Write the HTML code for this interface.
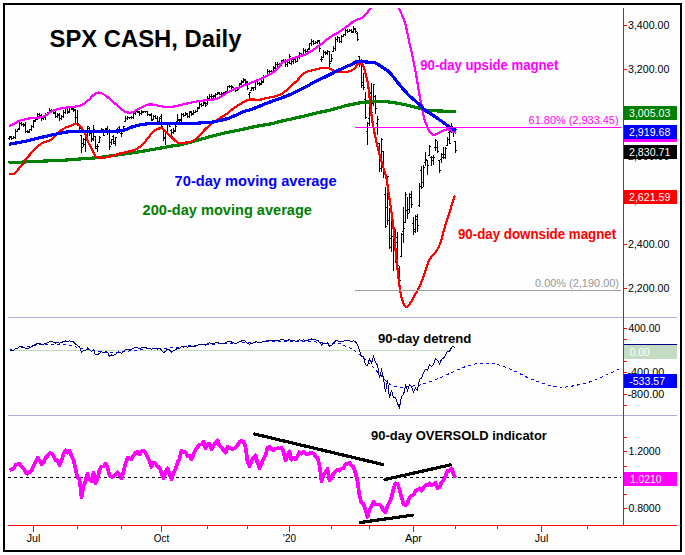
<!DOCTYPE html>
<html><head><meta charset="utf-8"><title>SPX CASH, Daily</title><style>html,body{margin:0;padding:0;background:#fff;width:685px;height:555px;overflow:hidden}svg{display:block;font-family:'Liberation Sans', Arial, sans-serif}</style></head><body>
<svg width="685" height="555" viewBox="0 0 685 555">
<rect width="685" height="555" fill="#ffffff"/>
<rect x="4" y="4" width="677" height="547" fill="#fcfdfc" stroke="#000" stroke-width="2"/>
<defs><clipPath id="cp"><rect x="5" y="8" width="618" height="309"/></clipPath></defs>
<path d="M8 317.5H677M8 415.5H677" stroke="#a8a8d0" stroke-width="1" fill="none" stroke-dasharray="1 1"/>
<path d="M9 317.5H677M9 415.5H677" stroke="#c8bca0" stroke-width="1" fill="none" stroke-dasharray="1 1"/>
<g clip-path="url(#cp)"><path d="M9.5 136V140M8.0 138.5h1.5M9.5 136.5h1.5M11.5 136V140M10.0 137.5h1.5M11.5 138.5h1.5M13.5 136V139M12.0 138.5h1.5M13.5 137.5h1.5M15.5 129V139M14.0 137.5h1.5M15.5 131.5h1.5M17.5 129V132M16.0 131.5h1.5M17.5 129.5h1.5M19.5 121V130M18.0 128.5h1.5M19.5 123.5h1.5M21.5 122V126M20.0 123.5h1.5M21.5 124.5h1.5M23.5 123V127M22.0 124.5h1.5M23.5 125.5h1.5M25.5 122V133M24.0 124.5h1.5M25.5 131.5h1.5M27.5 130V133M26.0 131.5h1.5M27.5 132.5h1.5M29.5 129V133M28.0 131.5h1.5M29.5 129.5h1.5M31.5 125V131M30.0 129.5h1.5M31.5 126.5h1.5M33.5 120V128M32.0 126.5h1.5M33.5 121.5h1.5M35.5 118V122M34.0 120.5h1.5M35.5 119.5h1.5M37.5 113V120M36.0 118.5h1.5M37.5 114.5h1.5M39.5 113V116M38.0 114.5h1.5M39.5 115.5h1.5M41.5 114V121M40.0 115.5h1.5M41.5 118.5h1.5M43.5 117V120M42.0 118.5h1.5M43.5 117.5h1.5M45.5 113V120M44.0 117.5h1.5M45.5 114.5h1.5M47.5 112V116M46.0 114.5h1.5M47.5 113.5h1.5M49.5 108V114M48.0 112.5h1.5M49.5 110.5h1.5M51.5 109V112M50.0 110.5h1.5M51.5 110.5h1.5M53.5 109V114M52.0 110.5h1.5M53.5 112.5h1.5M55.5 111V118M54.0 113.5h1.5M55.5 116.5h1.5M57.5 113V118M56.0 116.5h1.5M57.5 114.5h1.5M59.5 113V121M58.0 115.5h1.5M59.5 118.5h1.5M61.5 115V120M60.0 118.5h1.5M61.5 116.5h1.5M63.5 110V118M62.0 116.5h1.5M63.5 112.5h1.5M65.5 108V114M64.0 112.5h1.5M65.5 108.5h1.5M67.5 108V114M66.0 108.5h1.5M67.5 112.5h1.5M69.5 107V113M68.0 111.5h1.5M69.5 107.5h1.5M71.5 106V110M70.0 107.5h1.5M71.5 108.5h1.5M73.5 108V112M72.0 109.5h1.5M73.5 110.5h1.5M75.5 109V123M74.0 109.5h1.5M75.5 117.5h1.5M77.5 110V126M76.0 117.5h1.5M77.5 123.5h1.5M79.5 125V133M78.0 125.5h1.5M79.5 128.5h1.5M81.5 135V153M80.0 135.5h1.5M81.5 147.5h1.5M83.5 138V147M82.0 143.5h1.5M83.5 139.5h1.5M85.5 136V152M84.0 144.5h1.5M85.5 138.5h1.5M87.5 126V137M86.0 135.5h1.5M87.5 126.5h1.5M89.5 127V136M88.0 128.5h1.5M89.5 131.5h1.5M91.5 133V142M90.0 133.5h1.5M91.5 138.5h1.5M93.5 125V141M92.0 139.5h1.5M93.5 129.5h1.5M95.5 136V149M94.0 136.5h1.5M95.5 148.5h1.5M97.5 144V152M96.0 146.5h1.5M97.5 146.5h1.5M99.5 136V143M98.0 142.5h1.5M99.5 137.5h1.5M101.5 128V133M100.0 132.5h1.5M101.5 129.5h1.5M103.5 129V136M102.0 130.5h1.5M103.5 135.5h1.5M105.5 128V132M104.0 130.5h1.5M105.5 129.5h1.5M107.5 126V135M106.0 128.5h1.5M107.5 130.5h1.5M109.5 129V150M108.0 132.5h1.5M109.5 146.5h1.5M111.5 139V145M110.0 142.5h1.5M111.5 139.5h1.5M113.5 135V144M112.0 136.5h1.5M113.5 141.5h1.5M115.5 137V146M114.0 143.5h1.5M115.5 137.5h1.5M117.5 128V134M116.0 132.5h1.5M117.5 129.5h1.5M119.5 126V133M118.0 127.5h1.5M119.5 129.5h1.5M121.5 132V137M120.0 133.5h1.5M121.5 133.5h1.5M123.5 126V131M122.0 129.5h1.5M123.5 126.5h1.5M125.5 116V122M124.0 121.5h1.5M125.5 118.5h1.5M127.5 116V120M126.0 118.5h1.5M127.5 117.5h1.5M129.5 117V119M128.0 117.5h1.5M129.5 117.5h1.5M131.5 116V119M130.0 117.5h1.5M131.5 117.5h1.5M133.5 112V119M132.0 117.5h1.5M133.5 113.5h1.5M135.5 110V115M134.0 112.5h1.5M135.5 111.5h1.5M137.5 110V113M136.0 111.5h1.5M137.5 111.5h1.5M139.5 111V116M138.0 112.5h1.5M139.5 113.5h1.5M141.5 110V115M140.0 113.5h1.5M141.5 112.5h1.5M143.5 111V113M142.0 111.5h1.5M143.5 111.5h1.5M145.5 111V113M144.0 111.5h1.5M145.5 111.5h1.5M147.5 111V116M146.0 111.5h1.5M147.5 114.5h1.5M149.5 114V116M148.0 114.5h1.5M149.5 115.5h1.5M151.5 113V121M150.0 114.5h1.5M151.5 120.5h1.5M153.5 115V120M152.0 119.5h1.5M153.5 116.5h1.5M155.5 115V119M154.0 116.5h1.5M155.5 118.5h1.5M157.5 116V124M156.0 118.5h1.5M157.5 121.5h1.5M159.5 117V122M158.0 121.5h1.5M159.5 118.5h1.5M161.5 114V127M160.0 116.5h1.5M161.5 126.5h1.5M163.5 129V141M162.0 129.5h1.5M163.5 137.5h1.5M165.5 132V145M164.0 138.5h1.5M165.5 132.5h1.5M167.5 122V135M166.0 133.5h1.5M167.5 123.5h1.5M169.5 124V127M168.0 124.5h1.5M169.5 126.5h1.5M171.5 129V137M170.0 130.5h1.5M171.5 136.5h1.5M173.5 128V134M172.0 132.5h1.5M173.5 130.5h1.5M175.5 124V132M174.0 131.5h1.5M175.5 126.5h1.5M177.5 114V122M176.0 121.5h1.5M177.5 119.5h1.5M179.5 119V122M178.0 120.5h1.5M179.5 120.5h1.5M181.5 113V122M180.0 119.5h1.5M181.5 114.5h1.5M183.5 113V117M182.0 114.5h1.5M183.5 115.5h1.5M185.5 112V116M184.0 115.5h1.5M185.5 113.5h1.5M187.5 113V118M186.0 114.5h1.5M187.5 116.5h1.5M189.5 111V118M188.0 116.5h1.5M189.5 111.5h1.5M191.5 111V116M190.0 112.5h1.5M191.5 114.5h1.5M193.5 110V115M192.0 113.5h1.5M193.5 112.5h1.5M195.5 110V113M194.0 112.5h1.5M195.5 111.5h1.5M197.5 107V112M196.0 111.5h1.5M197.5 108.5h1.5M199.5 102V109M198.0 107.5h1.5M199.5 104.5h1.5M201.5 103V107M200.0 104.5h1.5M201.5 105.5h1.5M203.5 102V106M202.0 105.5h1.5M203.5 103.5h1.5M205.5 102V107M204.0 102.5h1.5M205.5 105.5h1.5M207.5 96V105M206.0 103.5h1.5M207.5 98.5h1.5M209.5 94V99M208.0 98.5h1.5M209.5 96.5h1.5M211.5 94V99M210.0 96.5h1.5M211.5 96.5h1.5M213.5 95V98M212.0 96.5h1.5M213.5 96.5h1.5M215.5 93V98M214.0 95.5h1.5M215.5 94.5h1.5M217.5 92V95M216.0 94.5h1.5M217.5 92.5h1.5M219.5 92V95M218.0 93.5h1.5M219.5 94.5h1.5M221.5 92V96M220.0 94.5h1.5M221.5 93.5h1.5M223.5 92V95M222.0 93.5h1.5M223.5 92.5h1.5M225.5 91V94M224.0 92.5h1.5M225.5 92.5h1.5M227.5 86V92M226.0 91.5h1.5M227.5 86.5h1.5M229.5 85V88M228.0 86.5h1.5M229.5 86.5h1.5M231.5 85V89M230.0 86.5h1.5M231.5 86.5h1.5M233.5 87V91M232.0 87.5h1.5M233.5 89.5h1.5M235.5 89V92M234.0 89.5h1.5M235.5 90.5h1.5M237.5 88V91M236.0 90.5h1.5M237.5 89.5h1.5M239.5 83V89M238.0 87.5h1.5M239.5 84.5h1.5M241.5 80V85M240.0 83.5h1.5M241.5 82.5h1.5M243.5 78V83M242.0 81.5h1.5M243.5 79.5h1.5M245.5 79V84M244.0 80.5h1.5M245.5 82.5h1.5M247.5 81V90M246.0 81.5h1.5M247.5 88.5h1.5M249.5 92V98M248.0 94.5h1.5M249.5 92.5h1.5M251.5 87V91M250.0 90.5h1.5M251.5 88.5h1.5M253.5 87V91M252.0 87.5h1.5M253.5 87.5h1.5M255.5 80V90M254.0 87.5h1.5M255.5 81.5h1.5M257.5 80V85M256.0 81.5h1.5M257.5 83.5h1.5M259.5 82V86M258.0 83.5h1.5M259.5 84.5h1.5M261.5 80V85M260.0 83.5h1.5M261.5 82.5h1.5M263.5 75V83M262.0 81.5h1.5M263.5 76.5h1.5M265.5 75V78M264.0 76.5h1.5M265.5 76.5h1.5M267.5 69V77M266.0 75.5h1.5M267.5 71.5h1.5M269.5 70V73M268.0 71.5h1.5M269.5 71.5h1.5M271.5 70V73M270.0 71.5h1.5M271.5 71.5h1.5M273.5 66V73M272.0 71.5h1.5M273.5 68.5h1.5M275.5 62V69M274.0 67.5h1.5M275.5 64.5h1.5M277.5 62V67M276.0 64.5h1.5M277.5 64.5h1.5M279.5 63V66M278.0 64.5h1.5M279.5 64.5h1.5M281.5 60V66M280.0 64.5h1.5M281.5 60.5h1.5M283.5 59V63M282.0 60.5h1.5M283.5 60.5h1.5M285.5 59V67M284.0 60.5h1.5M285.5 64.5h1.5M287.5 61V67M286.0 64.5h1.5M287.5 62.5h1.5M289.5 54V64M288.0 62.5h1.5M289.5 56.5h1.5M291.5 59V65M290.0 63.5h1.5M291.5 61.5h1.5M293.5 57V64M292.0 61.5h1.5M293.5 59.5h1.5M295.5 58V63M294.0 59.5h1.5M295.5 61.5h1.5M297.5 57V62M296.0 61.5h1.5M297.5 57.5h1.5M299.5 52V59M298.0 56.5h1.5M299.5 53.5h1.5M301.5 53V56M300.0 53.5h1.5M301.5 55.5h1.5M303.5 48V55M302.0 54.5h1.5M303.5 50.5h1.5M305.5 49V53M304.0 50.5h1.5M305.5 51.5h1.5M307.5 49V52M306.0 51.5h1.5M307.5 49.5h1.5M309.5 43V50M308.0 48.5h1.5M309.5 43.5h1.5M311.5 39V46M310.0 43.5h1.5M311.5 41.5h1.5M313.5 40V45M312.0 41.5h1.5M313.5 43.5h1.5M315.5 41V44M314.0 43.5h1.5M315.5 42.5h1.5M317.5 40V44M316.0 42.5h1.5M317.5 41.5h1.5M319.5 40V52M318.0 40.5h1.5M319.5 48.5h1.5M321.5 56V62M320.0 59.5h1.5M321.5 59.5h1.5M323.5 50V58M322.0 57.5h1.5M323.5 52.5h1.5M325.5 51V55M324.0 52.5h1.5M325.5 53.5h1.5M327.5 50V55M326.0 52.5h1.5M327.5 51.5h1.5M329.5 51V67M328.0 51.5h1.5M329.5 63.5h1.5M331.5 54V62M330.0 61.5h1.5M331.5 58.5h1.5M333.5 46V52M332.0 51.5h1.5M333.5 48.5h1.5M335.5 37V51M334.0 48.5h1.5M335.5 39.5h1.5M337.5 36V42M336.0 39.5h1.5M337.5 37.5h1.5M339.5 37V43M338.0 37.5h1.5M339.5 41.5h1.5M341.5 35V43M340.0 41.5h1.5M341.5 36.5h1.5M343.5 34V37M342.0 36.5h1.5M343.5 34.5h1.5M345.5 28V36M344.0 34.5h1.5M345.5 30.5h1.5M347.5 29V33M346.0 30.5h1.5M347.5 31.5h1.5M349.5 29V32M348.0 31.5h1.5M349.5 30.5h1.5M351.5 29V33M350.0 30.5h1.5M351.5 32.5h1.5M353.5 26V33M352.0 31.5h1.5M353.5 28.5h1.5M355.5 28V33M354.0 29.5h1.5M355.5 31.5h1.5M357.5 32V41M356.0 33.5h1.5M357.5 39.5h1.5M359.5 56V67M358.0 56.5h1.5M359.5 63.5h1.5M361.5 59V88M360.0 60.5h1.5M361.5 85.5h1.5M363.5 73V90M362.0 82.5h1.5M363.5 87.5h1.5M365.5 92V119M364.0 99.5h1.5M365.5 117.5h1.5M367.5 122V145M366.0 131.5h1.5M367.5 123.5h1.5M369.5 93V126M368.0 118.5h1.5M369.5 93.5h1.5M371.5 83V119M370.0 92.5h1.5M371.5 112.5h1.5M373.5 84V106M372.0 103.5h1.5M373.5 84.5h1.5M375.5 95V114M374.0 96.5h1.5M375.5 108.5h1.5M377.5 116V135M376.0 123.5h1.5M377.5 119.5h1.5M379.5 143V172M378.0 143.5h1.5M379.5 168.5h1.5M381.5 138V172M380.0 154.5h1.5M381.5 139.5h1.5M383.5 151V178M382.0 151.5h1.5M383.5 169.5h1.5M385.5 187V228M384.0 194.5h1.5M385.5 226.5h1.5M387.5 176V225M386.0 207.5h1.5M387.5 176.5h1.5M389.5 208V249M388.0 220.5h1.5M389.5 247.5h1.5M391.5 210V252M390.0 238.5h1.5M391.5 216.5h1.5M393.5 232V271M392.0 236.5h1.5M393.5 245.5h1.5M395.5 229V263M394.0 246.5h1.5M395.5 242.5h1.5M397.5 232V268M396.0 237.5h1.5M397.5 265.5h1.5M399.5 266V291M398.0 268.5h1.5M399.5 280.5h1.5M401.5 233V257M400.0 256.5h1.5M401.5 234.5h1.5M403.5 207V243M402.0 231.5h1.5M403.5 228.5h1.5M405.5 192V223M404.0 222.5h1.5M405.5 194.5h1.5M407.5 197V219M406.0 210.5h1.5M407.5 213.5h1.5M409.5 193V213M408.0 209.5h1.5M409.5 194.5h1.5M411.5 191V208M410.0 197.5h1.5M411.5 204.5h1.5M413.5 217V235M412.0 223.5h1.5M413.5 229.5h1.5M415.5 215V233M414.0 231.5h1.5M415.5 216.5h1.5M417.5 214V232M416.0 219.5h1.5M417.5 225.5h1.5M419.5 183V207M418.0 205.5h1.5M419.5 186.5h1.5M421.5 166V189M420.0 170.5h1.5M421.5 187.5h1.5M423.5 165V187M422.0 182.5h1.5M423.5 167.5h1.5M425.5 152V166M424.0 162.5h1.5M425.5 159.5h1.5M427.5 160V175M426.0 160.5h1.5M427.5 165.5h1.5M429.5 145V156M428.0 155.5h1.5M429.5 146.5h1.5M431.5 156V166M430.0 157.5h1.5M431.5 160.5h1.5M433.5 155V165M432.0 157.5h1.5M433.5 157.5h1.5M435.5 139V151M434.0 147.5h1.5M435.5 140.5h1.5M437.5 141V153M436.0 147.5h1.5M437.5 151.5h1.5M439.5 160V173M438.0 160.5h1.5M439.5 170.5h1.5M441.5 153V163M440.0 159.5h1.5M441.5 157.5h1.5M443.5 147V159M442.0 154.5h1.5M443.5 157.5h1.5M445.5 147V159M444.0 154.5h1.5M445.5 148.5h1.5M447.5 137V146M446.0 145.5h1.5M447.5 139.5h1.5M449.5 130V144M448.0 132.5h1.5M449.5 143.5h1.5M451.5 123V133M450.0 131.5h1.5M451.5 126.5h1.5M453.5 128V137M452.0 128.5h1.5M453.5 132.5h1.5M455.5 141V153M454.0 141.5h1.5M455.5 150.5h1.5" stroke="#000" stroke-width="1" fill="none" shape-rendering="crispEdges"/><path d="M8.5 162.5 C10.8 162.4 17.4 162.3 22.0 162.1 C26.6 161.9 31.2 161.6 36.0 161.4 C40.8 161.2 45.7 161.0 50.5 160.8 C55.3 160.6 60.9 160.3 65.0 160.1 C69.1 159.8 69.8 159.7 75.0 159.3 C80.2 158.9 90.2 158.4 96.0 157.8 C101.8 157.2 105.2 156.7 110.0 156.0 C114.8 155.3 120.0 154.6 125.0 153.9 C130.0 153.2 135.0 152.5 140.0 151.7 C145.0 150.9 149.7 150.0 155.0 149.1 C160.3 148.2 167.8 146.7 172.0 146.0 C176.2 145.3 177.0 145.4 180.0 144.8 C183.0 144.2 185.4 143.7 190.0 142.4 C194.6 141.2 201.8 138.9 207.6 137.3 C213.4 135.7 219.6 134.1 225.0 132.9 C230.4 131.7 235.0 131.0 240.0 129.9 C245.0 128.8 250.0 127.6 255.0 126.6 C260.0 125.6 265.8 124.8 270.0 124.0 C274.2 123.2 276.7 122.3 280.0 121.5 C283.3 120.7 286.7 120.0 290.0 119.3 C293.3 118.5 296.7 117.8 300.0 117.0 C303.3 116.2 306.7 115.4 310.0 114.6 C313.3 113.8 316.7 113.0 320.0 112.2 C323.3 111.5 325.7 111.2 330.0 110.1 C334.3 109.0 341.7 106.8 346.0 105.7 C350.3 104.6 353.0 104.2 356.0 103.6 C359.0 103.0 361.5 102.6 364.0 102.3 C366.5 102.0 368.1 102.1 371.0 101.9 C373.9 101.8 378.0 101.3 381.5 101.4 C385.0 101.5 388.2 101.9 392.0 102.4 C395.8 102.9 399.7 103.6 404.1 104.5 C408.5 105.4 414.3 107.0 418.2 108.0 C422.1 109.0 424.0 109.9 427.6 110.4 C431.2 110.9 435.3 110.8 440.0 111.0 C444.7 111.2 453.3 111.4 456.0 111.5" stroke="#008000" stroke-width="3.2" fill="none" stroke-linejoin="round" shape-rendering="crispEdges"/><path d="M9.0 174.0 C9.9 174.0 12.9 174.6 14.5 173.8 C16.1 173.0 17.1 170.6 18.5 169.0 C19.9 167.4 21.5 165.8 22.7 164.2 C23.9 162.6 24.8 160.7 25.9 159.2 C27.0 157.7 28.2 156.5 29.5 155.0 C30.8 153.5 32.4 151.5 33.8 150.0 C35.2 148.5 36.5 147.4 38.0 146.2 C39.5 145.0 41.2 143.8 42.5 143.0 C43.8 142.2 44.8 142.0 46.0 141.6 C47.2 141.2 48.2 141.6 49.5 140.8 C50.8 140.0 52.1 138.5 53.9 136.9 C55.6 135.3 58.0 132.8 60.0 131.2 C62.0 129.6 64.3 128.2 66.2 127.3 C68.1 126.3 69.7 126.1 71.4 125.5 C73.2 124.9 75.1 123.5 76.7 123.8 C78.3 124.1 79.6 125.7 81.0 127.3 C82.4 128.9 83.8 130.8 85.0 133.4 C86.2 136.0 87.5 140.7 88.5 143.0 C89.5 145.3 90.2 145.9 91.0 147.5 C91.8 149.1 92.7 150.9 93.5 152.5 C94.3 154.1 95.0 156.2 96.1 157.0 C97.2 157.8 98.5 157.4 100.0 157.5 C101.5 157.6 103.2 157.8 104.9 157.6 C106.6 157.4 108.3 157.0 110.0 156.6 C111.7 156.2 113.3 155.5 115.0 155.0 C116.7 154.5 117.7 154.1 120.0 153.5 C122.3 152.9 125.9 152.2 128.8 151.4 C131.7 150.6 134.6 150.5 137.5 148.6 C140.4 146.7 143.8 142.9 146.3 140.2 C148.8 137.5 150.8 134.1 152.5 132.3 C154.2 130.5 155.2 130.0 156.5 129.3 C157.8 128.6 159.2 128.4 160.3 128.3 C161.4 128.2 161.8 128.0 163.0 128.8 C164.2 129.6 165.7 131.6 167.3 133.2 C168.9 134.8 170.8 136.5 172.6 138.1 C174.3 139.7 175.5 141.8 177.8 142.5 C180.1 143.2 184.1 142.7 186.6 142.5 C189.1 142.3 190.9 141.8 192.7 141.1 C194.4 140.4 195.5 139.5 197.1 138.1 C198.7 136.7 201.0 134.3 202.3 132.9 C203.6 131.5 203.4 131.1 205.0 129.5 C206.6 127.9 209.3 125.3 211.9 123.3 C214.5 121.3 218.1 119.3 220.6 117.7 C223.1 116.1 224.6 115.4 226.8 113.8 C229.0 112.2 231.5 109.8 233.8 108.1 C236.1 106.4 238.3 105.1 240.8 103.7 C243.3 102.3 245.9 100.2 249.0 99.6 C252.1 98.9 256.6 100.1 259.5 99.8 C262.4 99.5 264.8 98.3 266.5 97.9 C268.2 97.5 267.7 98.0 270.0 97.4 C272.3 96.9 277.6 96.0 280.5 94.6 C283.4 93.2 285.0 91.4 287.6 89.2 C290.2 87.0 293.4 84.0 296.3 81.3 C299.2 78.5 302.4 74.5 305.0 72.7 C307.6 70.9 309.2 71.2 312.1 70.4 C315.0 69.6 320.0 68.2 322.6 67.8 C325.2 67.4 326.7 68.0 327.9 68.1 C329.1 68.2 328.8 68.1 330.0 68.6 C331.2 69.1 333.3 70.7 335.1 71.2 C336.9 71.8 338.9 71.8 341.0 71.9 C343.1 72.0 345.4 72.3 347.5 71.9 C349.6 71.5 351.6 70.6 353.4 69.3 C355.2 68.0 357.1 64.8 358.5 63.9 C359.9 63.0 361.1 63.4 362.1 64.2 C363.1 65.0 363.6 66.9 364.3 69.0 C365.0 71.1 365.9 74.5 366.5 77.0 C367.1 79.5 367.6 82.0 368.0 84.3 C368.4 86.6 368.6 88.0 368.9 91.0 C369.2 94.0 369.4 96.5 370.0 102.0 C370.6 107.5 371.8 117.2 372.8 123.8 C373.9 130.3 375.0 135.5 376.3 141.3 C377.6 147.1 379.5 154.4 380.7 158.8 C381.9 163.2 382.6 164.9 383.5 168.0 C384.4 171.1 385.4 173.0 386.3 177.5 C387.2 182.0 388.0 189.2 388.9 195.0 C389.8 200.8 390.6 206.0 391.5 212.5 C392.4 219.0 393.5 227.1 394.2 234.0 C394.9 240.9 395.3 247.9 395.9 254.0 C396.5 260.1 397.2 265.6 397.7 270.3 C398.2 275.0 398.6 278.5 399.0 282.0 C399.4 285.5 399.7 288.0 400.3 291.3 C400.9 294.6 401.9 299.2 402.9 301.8 C403.9 304.4 405.2 306.7 406.4 307.0 C407.6 307.3 408.4 305.9 410.0 303.6 C411.6 301.3 414.1 296.5 416.0 293.0 C417.9 289.5 419.7 286.3 421.3 282.5 C422.9 278.7 424.3 273.9 425.7 270.0 C427.1 266.1 427.9 262.5 429.7 259.4 C431.4 256.3 434.4 254.0 436.2 251.3 C438.0 248.6 439.1 246.4 440.3 243.2 C441.5 240.0 442.4 235.7 443.5 231.9 C444.6 228.1 445.7 224.0 446.8 220.5 C447.9 217.0 449.1 213.8 450.0 210.8 C450.9 207.8 451.7 205.3 452.5 202.7 C453.3 200.1 454.5 196.6 454.9 195.4" stroke="#ff0000" stroke-width="2.2" fill="none" stroke-linejoin="round" shape-rendering="crispEdges"/><path d="M9.0 126.1 C9.8 125.7 12.4 124.7 14.0 123.9 C15.6 123.1 17.0 121.9 18.5 121.2 C20.0 120.5 21.5 120.2 23.0 119.8 C24.5 119.4 25.8 119.0 27.5 118.7 C29.2 118.4 31.2 118.2 33.0 118.0 C34.8 117.8 36.7 117.8 38.3 117.6 C39.9 117.4 41.3 117.2 42.8 116.7 C44.3 116.2 45.8 115.3 47.3 114.4 C48.8 113.5 50.4 112.0 51.8 111.3 C53.2 110.5 54.1 110.4 55.5 109.9 C56.9 109.5 58.4 109.0 60.0 108.6 C61.6 108.2 62.5 108.0 65.0 107.7 C67.5 107.4 72.2 107.1 75.0 106.6 C77.8 106.1 79.7 106.1 82.0 104.9 C84.3 103.7 87.2 101.2 89.0 99.6 C90.8 98.0 91.5 96.7 93.0 95.5 C94.5 94.3 96.2 92.9 97.9 92.6 C99.6 92.3 101.3 93.1 103.0 93.9 C104.7 94.7 106.2 96.1 108.0 97.5 C109.8 98.9 111.6 100.6 113.6 102.3 C115.6 104.0 118.3 106.3 120.0 107.8 C121.7 109.3 122.8 110.4 124.0 111.2 C125.2 112.0 125.6 112.2 127.0 112.4 C128.4 112.6 130.6 112.9 132.3 112.4 C134.1 111.9 134.9 110.7 137.5 109.4 C140.1 108.1 145.1 105.4 148.0 104.7 C150.9 104.0 152.1 104.6 155.0 105.0 C157.9 105.4 162.6 106.8 165.5 107.1 C168.4 107.4 170.0 107.2 172.6 106.8 C175.2 106.4 178.4 105.3 181.3 104.7 C184.2 104.1 187.1 103.5 190.0 102.9 C192.9 102.3 195.3 101.6 198.8 101.1 C202.3 100.6 207.8 100.2 211.0 99.8 C214.2 99.4 215.9 99.3 218.0 98.5 C220.1 97.7 221.9 96.1 223.7 95.0 C225.5 93.9 226.7 92.9 228.6 91.9 C230.5 90.9 233.1 89.6 235.0 88.8 C236.9 88.0 238.2 88.0 240.0 87.3 C241.8 86.6 243.4 85.6 245.5 84.8 C247.6 84.0 249.3 83.5 252.5 82.2 C255.7 80.9 261.0 78.8 264.8 76.9 C268.6 75.0 272.4 73.1 275.3 70.8 C278.2 68.5 280.2 64.7 282.3 62.9 C284.4 61.1 285.3 61.3 287.6 60.3 C289.9 59.3 293.4 58.0 296.3 57.1 C299.2 56.2 302.4 55.7 305.0 54.6 C307.6 53.5 309.4 52.3 312.0 50.6 C314.6 48.9 317.9 46.7 320.8 44.5 C323.7 42.3 326.6 39.6 329.6 37.5 C332.6 35.4 335.8 34.0 338.8 32.1 C341.8 30.2 344.9 27.9 347.5 26.0 C350.1 24.1 352.2 22.1 354.5 20.8 C356.8 19.5 359.4 19.4 361.5 18.1 C363.6 16.8 365.3 14.5 366.8 12.9 C368.3 11.3 369.3 10.2 370.3 8.5 C371.3 6.8 372.6 3.9 373.0 3.0" stroke="#ff00ff" stroke-width="2.2" fill="none" stroke-linejoin="round" shape-rendering="crispEdges"/><path d="M396.5 4.0 C396.9 4.8 398.0 6.8 398.9 8.5 C399.8 10.2 400.6 11.9 401.7 14.4 C402.8 16.9 404.1 19.4 405.3 23.7 C406.5 28.0 407.6 34.8 408.8 40.1 C410.0 45.4 411.1 49.9 412.3 55.4 C413.5 60.9 414.6 66.5 415.8 72.9 C417.0 79.3 418.3 88.5 419.3 94.0 C420.3 99.5 420.9 101.8 421.7 105.7 C422.5 109.6 423.2 114.3 424.0 117.4 C424.8 120.5 425.7 122.5 426.4 124.4 C427.1 126.3 427.2 127.5 428.0 129.0 C428.8 130.5 430.0 132.3 431.0 133.3 C432.0 134.3 432.7 135.2 434.0 135.1 C435.3 135.0 437.3 133.5 438.9 132.7 C440.5 131.9 442.2 130.9 443.8 130.3 C445.4 129.8 447.0 129.1 448.6 129.4 C450.2 129.7 452.3 131.4 453.5 131.9 C454.7 132.4 455.6 132.6 456.0 132.7" stroke="#ff00ff" stroke-width="2.2" fill="none" stroke-linejoin="round" shape-rendering="crispEdges"/><path d="M9.0 144.4 C10.3 144.1 14.3 143.3 17.0 142.8 C19.7 142.3 21.5 142.1 25.0 141.3 C28.5 140.5 33.7 139.2 38.1 138.2 C42.5 137.2 46.9 136.0 51.3 135.1 C55.7 134.2 61.1 133.1 64.4 132.5 C67.8 131.9 68.8 131.5 71.4 131.3 C74.0 131.1 76.8 131.3 80.0 131.4 C83.2 131.5 86.8 131.8 90.5 131.8 C94.2 131.8 97.8 131.5 101.9 131.4 C106.0 131.3 111.3 131.4 115.0 131.2 C118.7 131.0 120.9 130.9 123.8 130.2 C126.7 129.5 129.8 127.7 132.5 126.8 C135.2 125.9 137.1 125.5 140.0 124.9 C142.9 124.4 146.7 123.8 150.0 123.5 C153.3 123.2 156.3 123.3 160.0 123.3 C163.7 123.3 167.0 123.3 172.0 123.3 C177.0 123.3 185.7 123.4 190.0 123.4 C194.3 123.4 195.5 123.2 198.0 123.1 C200.5 123.0 202.8 122.7 205.0 122.6 C207.2 122.5 209.3 122.6 211.0 122.4 C212.7 122.2 213.5 121.8 215.0 121.5 C216.5 121.2 218.5 120.8 220.0 120.5 C221.5 120.2 222.7 119.8 224.0 119.5 C225.3 119.2 226.5 118.9 228.0 118.4 C229.5 117.9 230.6 117.5 233.0 116.5 C235.4 115.5 239.2 113.3 242.5 112.1 C245.8 110.8 247.9 110.7 252.5 109.0 C257.1 107.3 264.1 104.2 270.0 102.0 C275.9 99.8 281.8 98.0 287.6 95.6 C293.4 93.2 300.6 89.6 305.0 87.4 C309.4 85.2 310.3 84.0 313.8 82.2 C317.3 80.4 322.2 78.4 326.1 76.5 C330.0 74.6 334.2 72.3 337.3 70.8 C340.4 69.3 342.2 68.6 344.6 67.5 C347.0 66.4 349.8 65.2 351.9 64.2 C354.0 63.2 354.6 62.1 357.0 61.7 C359.4 61.3 363.3 61.8 366.5 62.0 C369.7 62.2 373.8 62.5 376.0 63.1 C378.2 63.7 378.5 64.7 380.0 65.7 C381.5 66.7 383.3 67.8 385.0 69.0 C386.7 70.2 387.6 70.3 390.0 72.9 C392.4 75.5 396.3 80.9 399.4 84.6 C402.5 88.3 405.7 92.1 408.8 95.2 C411.9 98.3 415.5 100.9 418.2 103.4 C420.9 105.9 423.4 108.9 425.2 110.4 C427.0 111.9 426.7 111.1 428.8 112.4 C430.9 113.8 434.7 116.5 437.6 118.5 C440.5 120.5 444.1 123.1 446.4 124.7 C448.7 126.3 450.0 127.2 451.6 128.2 C453.2 129.2 455.3 130.1 456.0 130.5" stroke="#0000ff" stroke-width="3.2" fill="none" stroke-linejoin="round" shape-rendering="crispEdges"/><path d="M355 290.5H621" stroke="#a0a0a0" stroke-width="1"/><path d="M355 127.5H621" stroke="#ff00ff" stroke-width="1"/></g>
<text x="49.6" y="46.9" font-size="23" fill="#000" font-weight="bold" text-anchor="start" textLength="191.8" lengthAdjust="spacingAndGlyphs">SPX CASH, Daily</text>
<text x="420.3" y="69.9" font-size="13.9" fill="#ff00ff" font-weight="bold" text-anchor="start" textLength="138" lengthAdjust="spacingAndGlyphs">90-day upside magnet</text>
<text x="174.6" y="186.1" font-size="15" fill="#0000ff" font-weight="bold" text-anchor="start" textLength="162" lengthAdjust="spacingAndGlyphs">70-day moving average</text>
<text x="142.6" y="215.1" font-size="15" fill="#008000" font-weight="bold" text-anchor="start" textLength="169.4" lengthAdjust="spacingAndGlyphs">200-day moving average</text>
<text x="457.9" y="239.1" font-size="13.8" fill="#ff0000" font-weight="bold" text-anchor="start" textLength="158.3" lengthAdjust="spacingAndGlyphs">90-day downside magnet</text>
<text x="618.6" y="123.8" font-size="10.5" fill="#ff00ff" font-weight="normal" text-anchor="end" textLength="90" lengthAdjust="spacingAndGlyphs">61.80% (2,933.45)</text>
<text x="619" y="286.8" font-size="10.5" fill="#999999" font-weight="normal" text-anchor="end" textLength="84" lengthAdjust="spacingAndGlyphs">0.00% (2,190.00)</text>
<path d="M12 350.5H449" stroke="#c0dcc0" stroke-width="1"/>
<path d="M9.4 350.1 C10.4 349.8 13.3 348.8 15.5 348.4 C17.7 348.0 19.9 347.9 22.5 347.5 C25.1 347.1 28.4 346.5 31.3 346.1 C34.2 345.7 37.1 345.2 40.0 344.9 C42.9 344.6 45.9 344.5 48.8 344.4 C51.7 344.3 54.9 344.3 57.5 344.4 C60.1 344.5 62.2 344.7 64.5 344.9 C66.8 345.1 69.5 345.0 71.5 345.4 C73.5 345.8 75.0 346.7 76.8 347.2 C78.5 347.7 80.2 348.0 82.0 348.4 C83.8 348.8 85.0 349.2 87.3 349.6 C89.6 350.0 93.4 350.6 96.0 351.0 C98.6 351.4 100.4 351.7 103.0 351.9 C105.6 352.1 109.2 352.4 111.8 352.4 C114.4 352.4 116.6 352.1 118.8 351.9 C121.0 351.7 122.1 351.7 125.0 351.4 C127.9 351.1 132.2 350.6 136.4 350.1 C140.6 349.6 144.7 348.9 150.0 348.6 C155.3 348.3 160.2 348.7 168.5 348.1 C176.8 347.5 186.4 345.9 200.0 345.0 C213.6 344.1 233.3 343.1 250.0 342.5 C266.7 341.9 287.3 341.1 300.0 341.2 C312.7 341.3 319.6 342.6 326.3 343.0 C333.0 343.4 336.8 343.2 340.0 343.8 C343.2 344.4 343.9 345.5 345.8 346.4 C347.8 347.3 349.8 347.9 351.7 349.0 C353.6 350.1 355.8 351.8 357.5 353.1 C359.2 354.4 360.9 355.5 362.2 356.6 C363.5 357.7 363.6 358.0 365.1 359.5 C366.7 361.0 369.6 363.5 371.5 365.4 C373.4 367.2 374.7 369.1 376.2 370.6 C377.7 372.2 378.4 372.6 380.3 374.7 C382.2 376.8 385.7 381.0 387.9 382.9 C390.1 384.8 391.6 385.0 393.7 385.8 C395.8 386.6 398.5 387.5 400.7 387.6 C402.9 387.7 404.6 386.9 406.7 386.6 C408.8 386.3 410.9 386.2 413.0 386.0 C415.1 385.8 417.3 385.6 419.5 385.1 C421.7 384.6 423.9 383.7 426.0 383.0 C428.1 382.3 430.4 381.6 432.4 380.9 C434.4 380.2 436.2 379.4 438.2 378.6 C440.1 377.8 442.1 376.9 444.1 376.0 C446.2 375.1 448.5 374.0 450.5 373.1 C452.5 372.2 454.2 371.3 456.3 370.4 C458.4 369.5 460.8 368.4 462.8 367.6 C464.9 366.8 466.7 366.3 468.6 365.7 C470.5 365.1 471.7 364.5 474.4 364.1 C477.1 363.8 481.8 363.7 484.8 363.6 C487.8 363.5 489.4 363.2 492.3 363.6 C495.2 364.0 498.5 364.8 502.2 366.0 C505.9 367.2 510.5 369.1 514.6 371.0 C518.7 372.9 522.9 375.3 527.0 377.2 C531.1 379.1 535.3 380.8 539.4 382.2 C543.5 383.6 547.7 385.1 551.8 385.9 C555.9 386.7 560.1 387.2 564.2 387.1 C568.3 387.0 572.5 386.0 576.6 385.2 C580.7 384.4 584.9 383.5 589.0 382.2 C593.1 380.9 596.4 379.3 601.4 377.2 C606.4 375.1 615.9 370.6 618.8 369.3" stroke="#0000ff" stroke-width="1" fill="none" stroke-dasharray="3 3" shape-rendering="crispEdges"/>
<path d="M9.5 349.9 L11.5 350.3 L13.5 350.3 L15.5 348.8 L17.5 348.2 L19.5 346.6 L21.5 346.8 L23.5 347.1 L25.5 348.6 L27.5 348.6 L29.5 347.9 L31.5 346.7 L33.5 345.3 L35.5 344.7 L37.5 343.4 L39.5 343.6 L41.5 344.4 L43.5 344.1 L45.5 343.4 L47.5 342.8 L49.5 341.9 L51.5 341.7 L53.5 342.1 L55.5 343.0 L57.5 342.3 L59.5 343.1 L61.5 342.6 L63.5 341.5 L65.5 341.0 L67.5 341.9 L69.5 340.9 L71.5 341.6 L73.5 342.0 L75.5 344.0 L77.5 345.6 L79.5 347.1 L81.5 352.2 L83.5 350.3 L85.5 350.8 L87.5 348.0 L89.5 349.1 L91.5 351.6 L93.5 349.7 L95.5 354.9 L97.5 354.9 L99.5 353.2 L101.5 351.5 L103.5 352.8 L105.5 351.7 L107.5 352.1 L109.5 356.6 L111.5 354.9 L113.5 355.4 L115.5 354.3 L117.5 352.2 L119.5 352.2 L121.5 353.2 L123.5 351.6 L125.5 349.6 L127.5 349.4 L129.5 349.4 L131.5 349.4 L133.5 348.2 L135.5 347.7 L137.5 347.8 L139.5 348.3 L141.5 347.9 L143.5 347.6 L145.5 347.5 L147.5 348.2 L149.5 348.1 L151.5 349.3 L153.5 348.2 L155.5 348.3 L157.5 349.0 L159.5 348.1 L161.5 350.1 L163.5 352.7 L165.5 351.4 L167.5 349.1 L169.5 349.9 L171.5 352.2 L173.5 350.9 L175.5 349.8 L177.5 348.0 L179.5 348.2 L181.5 346.8 L183.5 347.1 L185.5 346.6 L187.5 347.1 L189.5 346.1 L191.5 346.7 L193.5 346.3 L195.5 346.0 L197.5 345.3 L199.5 344.5 L201.5 344.8 L203.5 344.4 L205.5 345.0 L207.5 343.5 L209.5 342.9 L211.5 343.2 L213.5 343.2 L215.5 342.9 L217.5 342.6 L219.5 343.1 L221.5 343.1 L223.5 343.2 L225.5 343.1 L227.5 341.8 L229.5 341.8 L231.5 342.0 L233.5 342.8 L235.5 343.3 L237.5 342.9 L239.5 341.6 L241.5 341.0 L243.5 340.5 L245.5 341.4 L247.5 343.2 L249.5 344.4 L251.5 343.3 L253.5 343.0 L255.5 341.5 L257.5 342.3 L259.5 342.8 L261.5 342.5 L263.5 341.2 L265.5 341.2 L267.5 340.3 L269.5 340.6 L271.5 341.0 L273.5 340.6 L275.5 340.0 L277.5 340.0 L279.5 340.2 L281.5 339.7 L283.5 339.8 L285.5 341.0 L287.5 340.6 L289.5 339.4 L291.5 340.9 L293.5 340.5 L295.5 341.4 L297.5 340.8 L299.5 339.8 L301.5 340.7 L303.5 339.8 L305.5 340.5 L307.5 340.6 L309.5 339.3 L311.5 339.0 L313.5 339.5 L315.5 339.9 L317.5 340.2 L319.5 342.2 L321.5 345.0 L323.5 343.1 L325.5 343.3 L327.5 342.9 L329.5 346.4 L331.5 345.4 L333.5 342.9 L335.5 341.0 L337.5 340.4 L339.5 341.9 L341.5 341.1 L343.5 341.1 L345.5 340.1 L347.5 340.8 L349.5 340.9 L351.5 341.7 L353.5 340.9 L355.5 342.0 L357.5 344.5 L359.5 350.7 L361.5 356.7 L363.5 357.0 L365.5 364.7 L367.5 365.9 L369.5 358.8 L371.5 363.2 L373.5 356.7 L375.5 362.7 L377.5 365.1 L379.5 377.7 L381.5 370.2 L383.5 378.1 L385.5 392.3 L387.5 379.7 L389.5 398.4 L391.5 390.1 L393.5 397.4 L395.5 397.6 L397.5 403.4 L399.5 407.5 L401.5 396.1 L403.5 394.9 L405.5 385.6 L407.5 390.4 L409.5 384.9 L411.5 386.6 L413.5 392.2 L415.5 388.2 L417.5 390.2 L419.5 379.2 L421.5 378.6 L423.5 372.9 L425.5 369.3 L427.5 370.4 L429.5 364.5 L431.5 366.7 L433.5 364.5 L435.5 358.8 L437.5 360.5 L439.5 363.9 L441.5 359.3 L443.5 358.4 L445.5 355.0 L447.5 351.3 L449.5 351.6 L451.5 347.4 L453.5 346.4 L455.5 348.2" stroke="#000080" stroke-width="1" fill="none" shape-rendering="crispEdges"/>
<text x="378" y="342.8" font-size="12.9" fill="#000" font-weight="bold" text-anchor="start" textLength="93.4" lengthAdjust="spacingAndGlyphs">90-day detrend</text>
<path d="M8 477.5H621" stroke="#000" stroke-width="1" stroke-dasharray="3 3"/>
<path d="M9.5 470.1 L11.5 469.3 L13.5 468.6 L15.5 464.8 L17.5 464.4 L19.5 463.6 L21.5 466.8 L23.5 468.2 L25.5 472.3 L27.5 473.7 L29.5 472.0 L31.5 470.7 L33.5 465.7 L35.5 462.0 L37.5 457.7 L39.5 460.5 L41.5 464.0 L43.5 462.6 L45.5 457.9 L47.5 456.1 L49.5 453.3 L51.5 453.4 L53.5 456.0 L55.5 460.2 L57.5 460.3 L59.5 465.0 L61.5 460.5 L63.5 454.3 L65.5 450.4 L67.5 452.8 L69.5 451.0 L71.5 455.9 L73.5 459.6 L75.5 468.5 L77.5 477.5 L79.5 479.0 L81.5 497.3 L83.5 486.6 L85.5 480.9 L87.5 473.7 L89.5 479.7 L91.5 481.0 L93.5 472.6 L95.5 483.1 L97.5 478.8 L99.5 469.4 L101.5 466.5 L103.5 466.4 L105.5 463.5 L107.5 467.2 L109.5 475.8 L111.5 476.8 L113.5 476.5 L115.5 474.4 L117.5 472.2 L119.5 474.4 L121.5 478.6 L123.5 471.7 L125.5 463.6 L127.5 458.0 L129.5 458.1 L131.5 459.1 L133.5 455.3 L135.5 452.9 L137.5 451.7 L139.5 454.4 L141.5 451.2 L143.5 450.7 L145.5 452.9 L147.5 456.8 L149.5 460.6 L151.5 466.9 L153.5 462.5 L155.5 463.4 L157.5 466.9 L159.5 467.4 L161.5 473.3 L163.5 478.2 L165.5 472.0 L167.5 468.2 L169.5 473.8 L171.5 479.6 L173.5 473.3 L175.5 469.1 L177.5 462.6 L179.5 458.7 L181.5 450.9 L183.5 451.6 L185.5 452.2 L187.5 456.1 L189.5 455.5 L191.5 459.4 L193.5 454.0 L195.5 449.8 L197.5 447.2 L199.5 444.6 L201.5 444.2 L203.5 442.0 L205.5 448.2 L207.5 444.3 L209.5 443.8 L211.5 449.3 L213.5 446.1 L215.5 442.6 L217.5 440.1 L219.5 445.9 L221.5 447.7 L223.5 450.1 L225.5 452.8 L227.5 446.7 L229.5 447.9 L231.5 448.7 L233.5 448.7 L235.5 447.7 L237.5 445.5 L239.5 441.9 L241.5 440.5 L243.5 441.7 L245.5 446.6 L247.5 461.6 L249.5 466.3 L251.5 461.2 L253.5 457.5 L255.5 455.1 L257.5 462.8 L259.5 468.0 L261.5 464.3 L263.5 458.5 L265.5 455.3 L267.5 447.9 L269.5 446.5 L271.5 449.2 L273.5 450.4 L275.5 448.8 L277.5 448.3 L279.5 448.4 L281.5 448.0 L283.5 451.4 L285.5 460.6 L287.5 455.5 L289.5 451.3 L291.5 459.9 L293.5 457.8 L295.5 459.5 L297.5 456.1 L299.5 452.1 L301.5 453.6 L303.5 451.7 L305.5 453.6 L307.5 454.4 L309.5 453.3 L311.5 452.5 L313.5 453.7 L315.5 456.2 L317.5 458.1 L319.5 465.4 L321.5 481.4 L323.5 474.4 L325.5 472.5 L327.5 468.8 L329.5 480.5 L331.5 478.0 L333.5 473.4 L335.5 471.5 L337.5 469.9 L339.5 470.9 L341.5 468.8 L343.5 468.4 L345.5 464.1 L347.5 463.6 L349.5 462.6 L351.5 465.5 L353.5 467.0 L355.5 472.6 L357.5 481.3 L359.5 496.2 L361.5 502.7 L363.5 503.6 L365.5 509.9 L367.5 516.9 L369.5 509.6 L371.5 506.2 L373.5 501.6 L375.5 504.4 L377.5 504.5 L379.5 504.7 L381.5 506.5 L383.5 510.5 L385.5 512.0 L387.5 505.8 L389.5 502.1 L391.5 497.3 L393.5 488.9 L395.5 483.2 L397.5 483.6 L399.5 489.2 L401.5 497.0 L403.5 504.1 L405.5 505.2 L407.5 503.2 L409.5 497.4 L411.5 495.7 L413.5 494.8 L415.5 490.8 L417.5 489.9 L419.5 488.4 L421.5 490.7 L423.5 487.9 L425.5 485.3 L427.5 485.3 L429.5 483.3 L431.5 485.1 L433.5 484.5 L435.5 483.0 L437.5 488.2 L439.5 487.4 L441.5 482.4 L443.5 480.3 L445.5 475.7 L447.5 470.5 L449.5 470.9 L451.5 468.4 L453.5 473.7 L455.5 477.7" stroke="#ff00ff" stroke-width="3.7" fill="none" stroke-linejoin="round" shape-rendering="crispEdges"/>
<path d="M254.6 434L382.4 464.4M384.8 479.6L450.2 464.9M360.5 522.5L412.3 515.2" stroke="#000" stroke-width="3.2" stroke-linecap="round" shape-rendering="crispEdges"/>
<text x="371.1" y="440.2" font-size="13.5" fill="#000" font-weight="bold" text-anchor="start" textLength="175.8" lengthAdjust="spacingAndGlyphs">90-day OVERSOLD indicator</text>
<path d="M623.5 8V525.5M8 525.5H677" stroke="#ff0000" stroke-width="1" fill="none"/>
<path d="M623 25.5h4M623 69.5h4M623 113.5h4M623 157.5h4M623 200.5h4M623 244.5h4M623 288.5h4M623 328.5h4M623 339.5h4M623 350.5h4M623 361.5h4M623 372.5h4M623 383.5h4M623 394.5h4M623 405.5h4M623 437.5h4M623 451.5h4M623 466.5h4M623 480.5h4M623 494.5h4M623 508.5h4M33.5 525V532M161.5 525V532M289.5 525V532M413.5 525V532M541.5 525V532M77.5 525V529M121.5 525V529M207.5 525V529M247.5 525V529M331.5 525V529M369.5 525V529M455.5 525V529M497.5 525V529M587.5 525V529" stroke="#ff0000" stroke-width="1" fill="none"/>
<text x="628" y="29.0" font-size="10.5" fill="#000" font-weight="normal" text-anchor="start" textLength="41.3" lengthAdjust="spacingAndGlyphs">3,400.00</text>
<text x="628" y="72.8" font-size="10.5" fill="#000" font-weight="normal" text-anchor="start" textLength="41.3" lengthAdjust="spacingAndGlyphs">3,200.00</text>
<text x="628" y="116.6" font-size="10.5" fill="#000" font-weight="normal" text-anchor="start" textLength="41.3" lengthAdjust="spacingAndGlyphs">3,000.00</text>
<text x="628" y="160.3" font-size="10.5" fill="#000" font-weight="normal" text-anchor="start" textLength="41.3" lengthAdjust="spacingAndGlyphs">2,800.00</text>
<text x="628" y="204.1" font-size="10.5" fill="#000" font-weight="normal" text-anchor="start" textLength="41.3" lengthAdjust="spacingAndGlyphs">2,600.00</text>
<text x="628" y="247.9" font-size="10.5" fill="#000" font-weight="normal" text-anchor="start" textLength="41.3" lengthAdjust="spacingAndGlyphs">2,400.00</text>
<text x="628" y="291.7" font-size="10.5" fill="#000" font-weight="normal" text-anchor="start" textLength="41.3" lengthAdjust="spacingAndGlyphs">2,200.00</text>
<text x="628.5" y="332.2" font-size="10.5" fill="#000" font-weight="normal" text-anchor="start" textLength="31.7" lengthAdjust="spacingAndGlyphs">400.00</text>
<text x="627.5" y="376.2" font-size="10.5" fill="#000" font-weight="normal" text-anchor="start" textLength="36.7" lengthAdjust="spacingAndGlyphs">-400.00</text>
<text x="627.5" y="398.2" font-size="10.5" fill="#000" font-weight="normal" text-anchor="start" textLength="36.7" lengthAdjust="spacingAndGlyphs">-800.00</text>
<text x="628.4" y="454.9" font-size="10.5" fill="#000" font-weight="normal" text-anchor="start" textLength="32.2" lengthAdjust="spacingAndGlyphs">1.2000</text>
<text x="628.4" y="512.3" font-size="10.5" fill="#000" font-weight="normal" text-anchor="start" textLength="32.2" lengthAdjust="spacingAndGlyphs">0.8000</text>
<rect x="624" y="106" width="53" height="14" fill="#008000"/><text x="629" y="117" font-size="10.5" fill="#ffffff" font-weight="normal" text-anchor="start" textLength="41.3" lengthAdjust="spacingAndGlyphs">3,005.03</text>
<rect x="624" y="128" width="53" height="14" fill="#ff00ff"/>
<rect x="624" y="125" width="53" height="14" fill="#0000ff"/><text x="629" y="136" font-size="10.5" fill="#ffffff" font-weight="normal" text-anchor="start" textLength="41.3" lengthAdjust="spacingAndGlyphs">2,919.68</text>
<rect x="624" y="145" width="53" height="14" fill="#000000"/><text x="629" y="156" font-size="10.5" fill="#ffffff" font-weight="normal" text-anchor="start" textLength="41.3" lengthAdjust="spacingAndGlyphs">2,830.71</text>
<rect x="624" y="190" width="53" height="14" fill="#ff0000"/><text x="629" y="201" font-size="10.5" fill="#ffffff" font-weight="normal" text-anchor="start" textLength="41.3" lengthAdjust="spacingAndGlyphs">2,621.59</text>
<path d="M624 344.5H677" stroke="#000080" stroke-width="1"/>
<rect x="624" y="345" width="53" height="14" fill="#c4dcc4"/><text x="629.7" y="356" font-size="10.5" fill="#ffffff" font-weight="normal" text-anchor="start" textLength="20" lengthAdjust="spacingAndGlyphs">0.00</text>
<rect x="624" y="374" width="53" height="14" fill="#0000ff"/><text x="629.2" y="385" font-size="10.5" fill="#ffffff" font-weight="normal" text-anchor="start" textLength="36" lengthAdjust="spacingAndGlyphs">-533.57</text>
<rect x="624" y="472" width="53" height="14" fill="#ff00ff"/><text x="630" y="483" font-size="10.5" fill="#ffffff" font-weight="normal" text-anchor="start" textLength="31.6" lengthAdjust="spacingAndGlyphs">1.0210</text>
<text x="33.5" y="541.8" font-size="11" fill="#000" font-weight="normal" text-anchor="middle" textLength="13.6" lengthAdjust="spacingAndGlyphs">Jul</text>
<text x="161.5" y="541.8" font-size="11" fill="#000" font-weight="normal" text-anchor="middle" textLength="15.5" lengthAdjust="spacingAndGlyphs">Oct</text>
<text x="289.5" y="541.8" font-size="11" fill="#000" font-weight="normal" text-anchor="middle" textLength="13" lengthAdjust="spacingAndGlyphs">'20</text>
<text x="413.5" y="541.8" font-size="11" fill="#000" font-weight="normal" text-anchor="middle" textLength="17" lengthAdjust="spacingAndGlyphs">Apr</text>
<text x="541.5" y="541.8" font-size="11" fill="#000" font-weight="normal" text-anchor="middle" textLength="13.6" lengthAdjust="spacingAndGlyphs">Jul</text>
</svg>
</body></html>
